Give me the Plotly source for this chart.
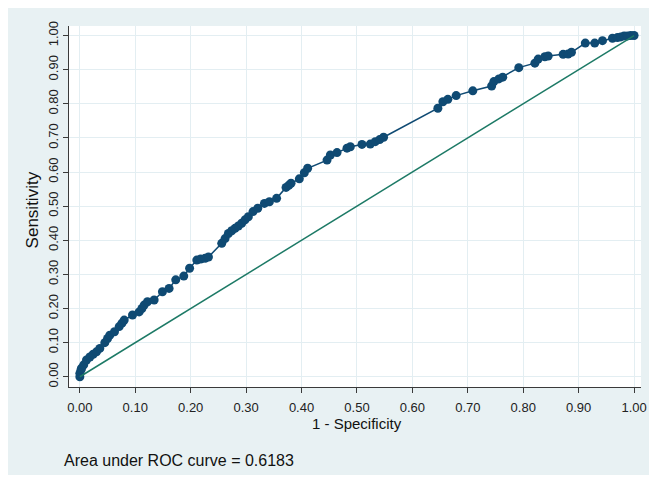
import plotly.graph_objects as go

fpr = [0, 0, 0.002, 0.003, 0.007, 0.012, 0.018, 0.024, 0.03, 0.036, 0.045, 0.05, 0.054, 0.0625,
       0.071, 0.076, 0.08, 0.095, 0.107, 0.112, 0.116, 0.122, 0.134, 0.149, 0.161, 0.173, 0.1875,
       0.198, 0.211, 0.218, 0.226, 0.232, 0.256, 0.262, 0.268, 0.274, 0.28, 0.286, 0.292, 0.298,
       0.304, 0.3125, 0.321, 0.333, 0.342, 0.355, 0.372, 0.377, 0.381, 0.396, 0.405, 0.411, 0.446,
       0.452, 0.464, 0.482, 0.488, 0.509, 0.524, 0.533, 0.541, 0.548, 0.646, 0.655, 0.664, 0.679,
       0.709, 0.743, 0.747, 0.756, 0.763, 0.792, 0.821, 0.827, 0.839, 0.845, 0.872, 0.881, 0.887,
       0.912, 0.929, 0.943, 0.961, 0.97, 0.976, 0.982, 0.988, 0.994, 1.0]
tpr = [0, 0.01, 0.02, 0.025, 0.035, 0.049, 0.058, 0.066, 0.073, 0.083, 0.10, 0.112, 0.122, 0.132,
       0.147, 0.157, 0.166, 0.181, 0.19, 0.2, 0.21, 0.22, 0.225, 0.249, 0.259, 0.284, 0.295,
       0.318, 0.342, 0.345, 0.347, 0.351, 0.391, 0.405, 0.42, 0.428, 0.435, 0.442, 0.45, 0.46,
       0.469, 0.484, 0.494, 0.508, 0.513, 0.523, 0.555, 0.561, 0.567, 0.58, 0.598, 0.611, 0.635,
       0.65, 0.657, 0.67, 0.674, 0.681, 0.682, 0.689, 0.695, 0.702, 0.787, 0.806, 0.813, 0.824,
       0.838, 0.852, 0.865, 0.873, 0.878, 0.906, 0.919, 0.931, 0.938, 0.94, 0.945, 0.946, 0.951,
       0.978, 0.978, 0.985, 0.992, 0.994, 0.996, 0.999, 0.999, 1.0, 1.0]
ref_x = [0, 1]
ref_y = [0, 1]
tick_vals = [0, 0.1, 0.2, 0.3, 0.4, 0.5, 0.6, 0.7, 0.8, 0.9, 1.0]
tick_text = ["0.00", "0.10", "0.20", "0.30", "0.40", "0.50", "0.60", "0.70", "0.80", "0.90", "1.00"]
auc_note = "Area under ROC curve = 0.6183"

NAVY = "#0f4a73"
GREEN = "#1d7a66"
BG = "#e8f1f3"
GRID = "#e3eef2"
FONT = "Liberation Sans, Arial, sans-serif"

fig = go.Figure()
fig.add_trace(go.Scatter(x=fpr, y=tpr, mode="lines+markers",
                         line=dict(color=NAVY, width=1.5),
                         marker=dict(color=NAVY, size=9, line=dict(width=0)),
                         showlegend=False))
fig.add_trace(go.Scatter(x=ref_x, y=ref_y, mode="lines",
                         line=dict(color=GREEN, width=1.5), showlegend=False))

# figure is placed by the page with an 8px body margin
OFF = 8
W, H = 649, 467
L, R, T, B = 61, 10, 18, 88
pw, ph = W - L - R, H - T - B

def px(x_page):
    return (x_page - OFF - L) / pw

def py(y_page):
    return (H - B - (y_page - OFF)) / ph

axis_common = dict(tickvals=tick_vals, ticktext=tick_text, showgrid=True, gridcolor=GRID,
                   gridwidth=1, zeroline=False, showline=True, linecolor="#3a3a3a", linewidth=1,
                   ticks="outside", ticklen=5, tickcolor="#3a3a3a", tickwidth=1,
                   tickfont=dict(family=FONT, size=13, color="#222222"), mirror=False)

fig.update_xaxes(range=[-0.0196, 1.0125], ticklabelstandoff=3, **axis_common)
fig.update_yaxes(range=[-0.030, 1.028], tickangle=-90, **axis_common)

fig.add_annotation(text="Sensitivity", xref="paper", yref="paper", x=px(32), y=py(210),
                   textangle=-90, showarrow=False, font=dict(family=FONT, size=17, color="#111111"),
                   xanchor="center", yanchor="middle")
fig.add_annotation(text="1 - Specificity", xref="paper", yref="paper", x=px(360), y=py(424),
                   showarrow=False, font=dict(family=FONT, size=15, color="#111111"),
                   xanchor="center", yanchor="middle")
fig.add_annotation(text=auc_note, xref="paper", yref="paper", x=px(62), y=py(460),
                   showarrow=False, font=dict(family=FONT, size=16, color="#111111"),
                   xanchor="left", yanchor="middle")

fig.update_layout(width=W, height=H, margin=dict(l=L, r=R, t=T, b=B),
                  paper_bgcolor=BG, plot_bgcolor="white")
fig.write_html("out.html")
